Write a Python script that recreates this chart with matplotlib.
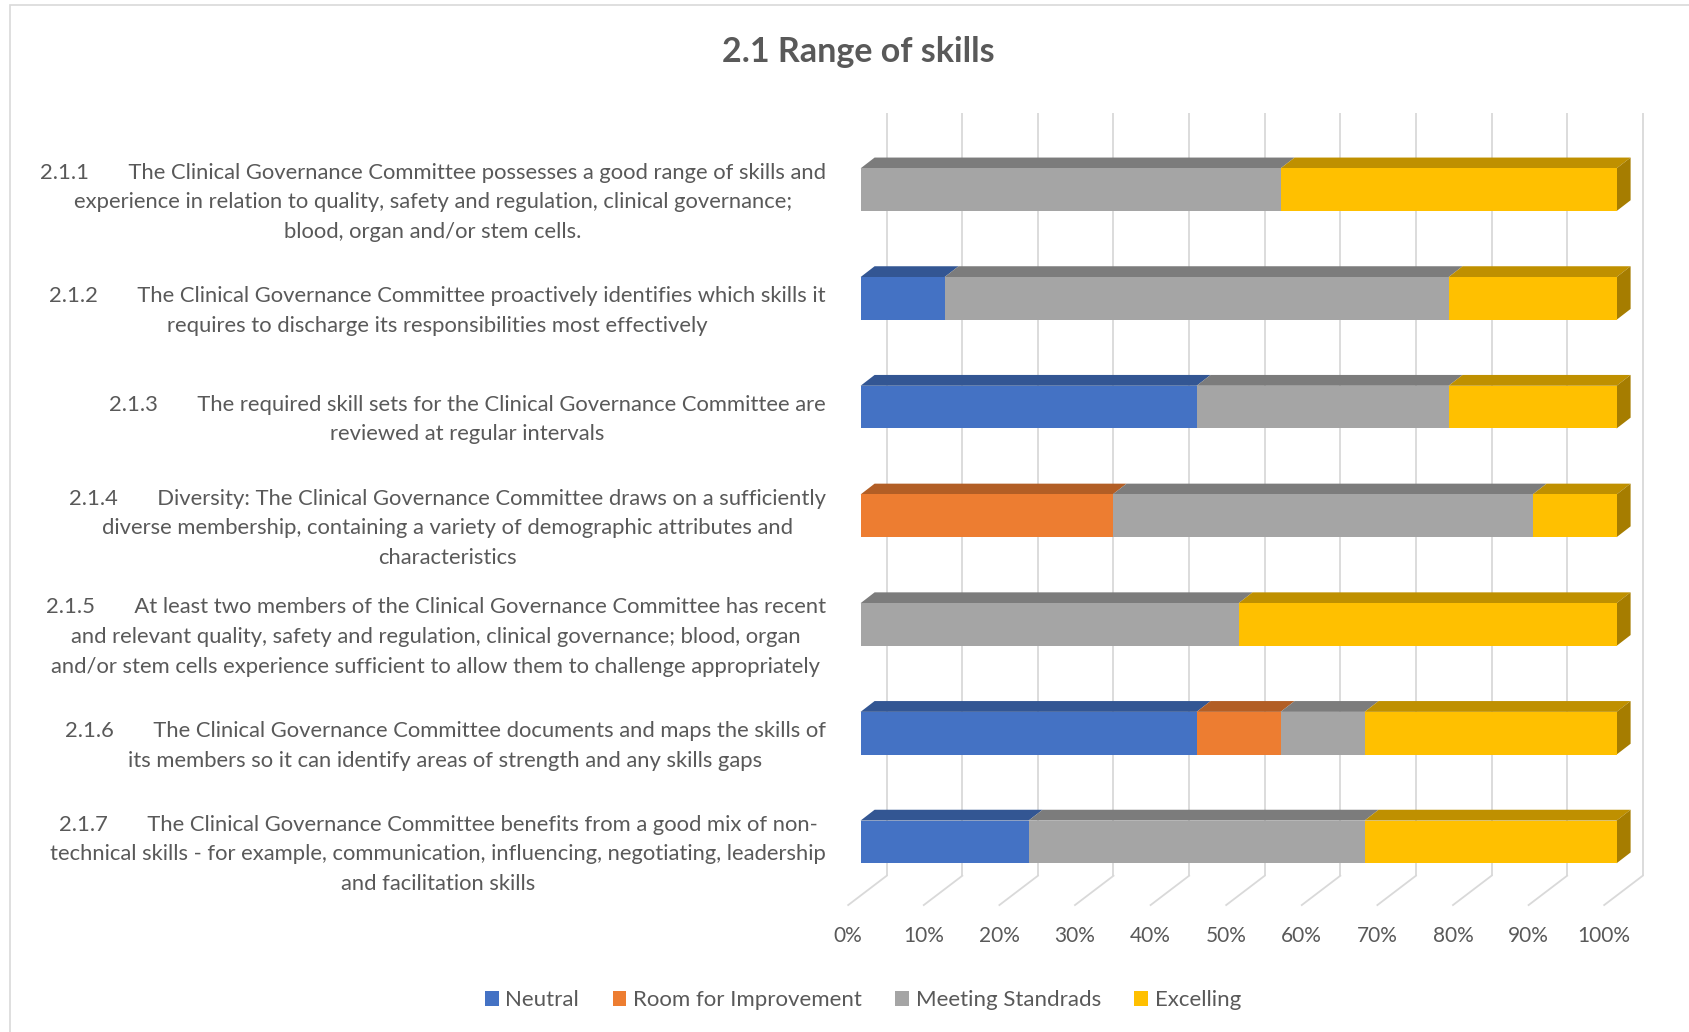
import matplotlib
matplotlib.use("Agg")
import matplotlib.pyplot as plt
from matplotlib.patches import Patch, Polygon, Rectangle
import numpy as np

plt.rcParams["font.family"] = ["Lato", "DejaVu Sans"]

# responses per statement (counts), one list per rating
statements = [
    "2.1.1       The Clinical Governance Committee possesses a good range of skills and\n"
    "experience in relation to quality, safety and regulation, clinical governance;\n"
    "blood, organ and/or stem cells.",
    "2.1.2       The Clinical Governance Committee proactively identifies which skills it\n"
    "requires to discharge its responsibilities most effectively",
    "2.1.3       The required skill sets for the Clinical Governance Committee are\n"
    "reviewed at regular intervals",
    "2.1.4       Diversity: The Clinical Governance Committee draws on a sufficiently\n"
    "diverse membership, containing a variety of demographic attributes and\n"
    "characteristics",
    "2.1.5       At least two members of the Clinical Governance Committee has recent\n"
    "and relevant quality, safety and regulation, clinical governance; blood, organ\n"
    "and/or stem cells experience sufficient to allow them to challenge appropriately",
    "2.1.6       The Clinical Governance Committee documents and maps the skills of\n"
    "its members so it can identify areas of strength and any skills gaps",
    "2.1.7       The Clinical Governance Committee benefits from a good mix of non-\n"
    "technical skills - for example, communication, influencing, negotiating, leadership\n"
    "and facilitation skills",
]
neutral = [0, 1, 4, 0, 0, 4, 2]
room = [0, 0, 0, 3, 0, 1, 0]
meeting = [5, 6, 3, 5, 4, 1, 4]
excelling = [4, 2, 2, 1, 4, 3, 3]

series_names = ["Neutral", "Room for Improvement", "Meeting Standrads", "Excelling"]
colors = ["#4472C4", "#ED7D31", "#A5A5A5", "#FFC000"]
tick_vals = list(range(0, 101, 10))

TEXT = "#595959"
GRID = "#D9D9D9"

W, H = 1689, 1032
fig = plt.figure(figsize=(W / 100, H / 100), dpi=100)
ax = fig.add_axes([0, 0, 1, 1])
ax.axis("off")

# pixel layout of the front plane of the bars
X0_PX, PX_PER_PCT = 860.6, 7.56
ROW0_PX, PX_PER_ROW = 189.7, 108.7
ax.set_xlim(-X0_PX / PX_PER_PCT, (W - X0_PX) / PX_PER_PCT)
ax.set_ylim((H - ROW0_PX) / PX_PER_ROW, -ROW0_PX / PX_PER_ROW)


def off(dx_px, dy_px):
    # screen offset in px (dy up) -> data units
    return dx_px / PX_PER_PCT, -dy_px / PX_PER_ROW


bar_h = 42.7 / PX_PER_ROW
depth = off(14.0, 10.8)       # bar top face
floor_front = off(-12.4, -9.4)
back_wall = off(26.1, 19.9)
grid_top = (113 - ROW0_PX) / PX_PER_ROW
grid_bottom = 6 + bar_h / 2 + 0.115

data = np.array([neutral, room, meeting, excelling], dtype=float)
pct = data / data.sum(axis=0) * 100
n = len(statements)
rows = np.arange(n)

# back wall gridlines and floor lines
for v in tick_vals:
    xb = v + back_wall[0]
    ax.plot([xb, xb], [grid_top, grid_bottom], color=GRID, lw=1.3, zorder=1,
            solid_capstyle="butt")
    xf = v + floor_front[0]
    yf = grid_bottom + (floor_front[1] - back_wall[1])
    ax.plot([xb, xf], [grid_bottom, yf], color=GRID, lw=1.3, zorder=1)
    ax.text(xf, 6.866, f"{v}%", ha="center", va="center", fontsize=15,
            color=TEXT)


def shade(c, f):
    r, g, b = matplotlib.colors.to_rgb(c)
    return (r * f, g * f, b * f)


left = np.zeros(n)
for k, (name, col) in enumerate(zip(series_names, colors)):
    vals = pct[k]
    ax.barh(rows, vals, left=left, height=bar_h, color=col, zorder=3)
    for i in rows:
        if vals[i] <= 0:
            continue
        l, r = left[i], left[i] + vals[i]
        yt = i - bar_h / 2
        top = [(l, yt), (r, yt), (r + depth[0], yt + depth[1]),
               (l + depth[0], yt + depth[1])]
        ax.add_patch(Polygon(top, closed=True, color=shade(col, 0.75),
                             lw=0, zorder=2))
    left += vals

# right-hand end faces
for i in rows:
    col = colors[max(k for k in range(4) if pct[k][i] > 0)]
    yt, yb = i - bar_h / 2, i + bar_h / 2
    side = [(100, yt), (100 + depth[0], yt + depth[1]),
            (100 + depth[0], yb + depth[1]), (100, yb)]
    ax.add_patch(Polygon(side, closed=True, color=shade(col, 0.65),
                         lw=0, zorder=2))

# statement labels
for i, s in enumerate(statements):
    ax.text(-4.6, i + 0.115, s, ha="right", va="center", multialignment="center",
            fontsize=15.8, color=TEXT, linespacing=1.6)

fig.text(858 / W, 1 - 52 / H, "2.1 Range of skills", ha="center", va="center",
         fontsize=24.5, fontweight="bold", color=TEXT)

handles = [Patch(facecolor=c, edgecolor="none", label=nm)
           for nm, c in zip(series_names, colors)]
fig.legend(handles=handles, loc="center", bbox_to_anchor=(863 / W, 1 - 1000.5 / H),
           ncol=4, frameon=False, fontsize=16, handlelength=0.62, handleheight=0.62,
           handletextpad=0.3, columnspacing=1.5, labelcolor=TEXT)

# chart area border
fig.patches.append(Rectangle((10 / W, -0.1), 1.2, 1.1 - 5 / H, transform=fig.transFigure,
                             fill=False, edgecolor=GRID, lw=1.2))

fig.savefig("out.png", dpi=100)
